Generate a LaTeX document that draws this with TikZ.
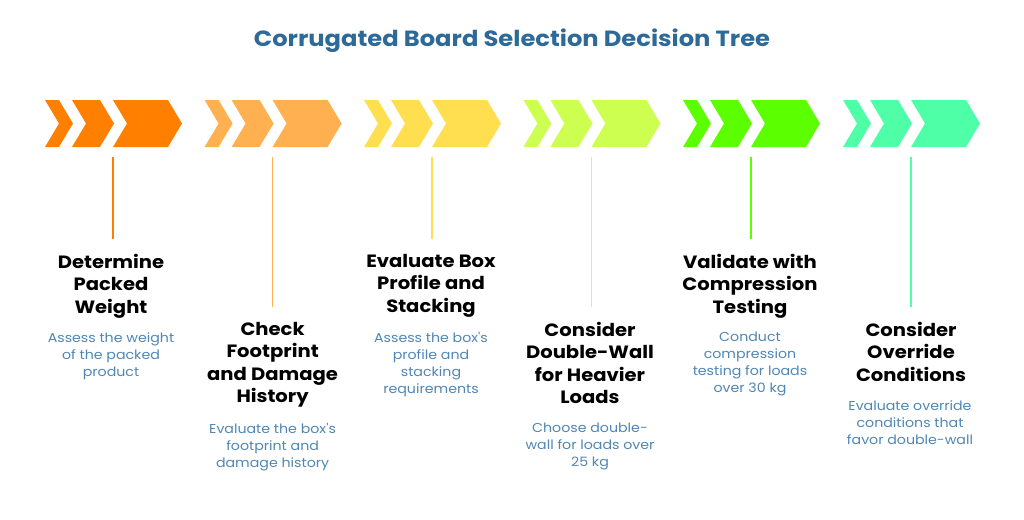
\documentclass[tikz,border=0pt]{standalone}
\usepackage{fontspec}
\setmainfont{Poppins}[FakeStretch=1.1, Ligatures=TeXOff]
\usetikzlibrary{positioning}
\definecolor{stageA}{HTML}{FF7F00}
\definecolor{stageB}{HTML}{FFB050}
\definecolor{stageC}{HTML}{FFDF4F}
\definecolor{stageD}{HTML}{CCFF4F}
\definecolor{stageE}{HTML}{5BFF00}
\definecolor{stageF}{HTML}{4FFFA7}
\definecolor{headblue}{HTML}{2D6A97}
\definecolor{descblue}{HTML}{4F86B4}

\begin{document}
\begin{tikzpicture}[x=1pt, y=-1pt,
  stagetitle/.style={align=center, inner sep=0pt, anchor=north,
                     font=\bfseries\fontsize{17.8}{22.5}\selectfont},
  stagedesc/.style={align=center, inner sep=0pt, anchor=north, text=descblue,
                    font=\fontsize{12.9}{17}\selectfont},
  stem/.style={line width=1.4pt, shorten >=15pt}
]
\useasboundingbox (0,0) rectangle (1024,519);

\node[text=headblue, font=\bfseries\fontsize{22}{26}\selectfont] (head) at (512,41)
  {Corrugated Board Selection Decision Tree};

% chevron groups
\foreach \g/\c in {45/stageA, 204.6/stageB, 364/stageC, 523.4/stageD, 683/stageE, 843/stageF}
  \foreach \o/\w in {0/14, 27/28, 68/55}
    \fill[\c] (\g+\o,100) -- ++(\w,0) -- ++(14,23.5) -- ++(-14,23.5)
              -- ++(-\w,0) -- ++(14,-23.5) -- cycle;

\coordinate (s1) at (113,157);
\coordinate (s2) at (272.6,157);
\coordinate (s3) at (432,157);
\coordinate (s4) at (591.4,157);
\coordinate (s5) at (751,157);
\coordinate (s6) at (911,157);

\node[stagetitle] (t1) at (111,254) {Determine\\Packed\\Weight};
\node[stagetitle] (t2) at (272.6,322) {Check\\Footprint\\and Damage\\History};
\node[stagetitle] (t3) at (431,254) {Evaluate Box\\Profile and\\Stacking};
\node[stagetitle] (t4) at (590,322) {Consider\\Double-Wall\\for Heavier\\Loads};
\node[stagetitle] (t5) at (750,254) {Validate with\\Compression\\Testing};
\node[stagetitle] (t6) at (911,322) {Consider\\Override\\Conditions};

\node[stagedesc] (d1) at (111,332) {Assess the weight\\of the packed\\product};
\node[stagedesc] (d2) at (272.6,423) {Evaluate the box's\\footprint and\\damage history};
\node[stagedesc] (d3) at (431,332) {Assess the box's\\profile and\\stacking\\requirements};
\node[stagedesc] (d4) at (590,423) {Choose double-\\wall for loads over\\25 kg};
\node[stagedesc] (d5) at (750,332) {Conduct\\compression\\testing for loads\\over 30 kg};
\node[stagedesc] (d6) at (910,400) {Evaluate override\\conditions that\\favor double-wall};

\draw[stem, stageA] (s1) -- (s1 |- t1.north);
\draw[stem, stageB] (s2) -- (s2 |- t2.north);
\draw[stem, stageC] (s3) -- (s3 |- t3.north);
\draw[stem, stageD] (s4) -- (s4 |- t4.north);
\draw[stem, stageE] (s5) -- (s5 |- t5.north);
\draw[stem, stageF] (s6) -- (s6 |- t6.north);

\end{tikzpicture}
\end{document}
